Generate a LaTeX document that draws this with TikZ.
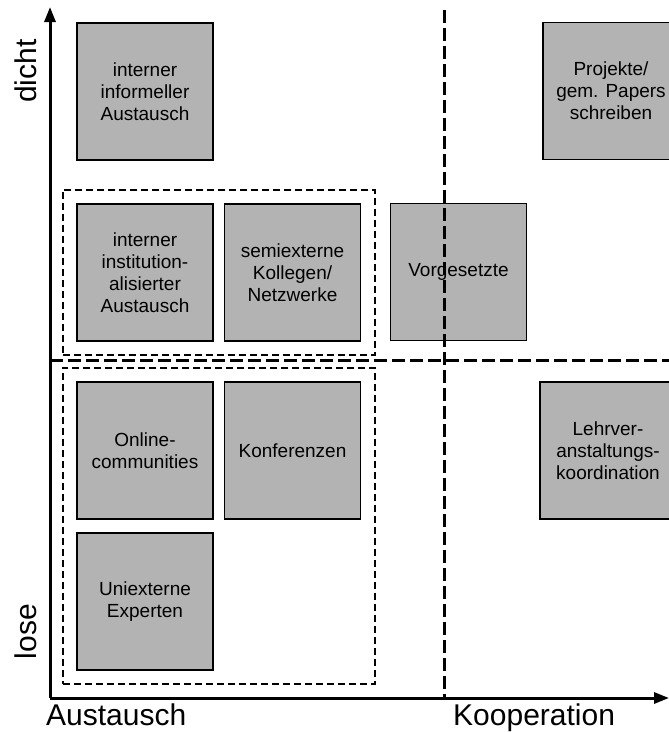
\documentclass[tikz,border=0pt]{standalone}
\usepackage{fontspec}
\setmainfont{Liberation Sans}
\usetikzlibrary{arrows.meta,fit}

\definecolor{boxgray}{RGB}{179,179,179}

\tikzset{
	feld/.style={
		draw=black, line width=1.5pt, fill=boxgray,
		minimum width=136pt, minimum height=137pt,
		align=center, inner sep=2pt,
		font=\fontsize{19}{22}\selectfont
	},
	gruppe/.style={
		draw=black, line width=2.2pt, dash pattern=on 7pt off 4pt,
		inner sep=13.5pt
	},
	quadrant/.style={
		line width=3pt, dash pattern=on 13pt off 5pt
	},
	achse/.style={
		line width=3pt, -{Triangle[length=15pt,width=11pt]}
	},
	achslabel/.style={
		font=\fontsize{30}{36}\selectfont, inner sep=0pt
	}
}

\begin{document}
\begin{tikzpicture}[x=1pt, y=-1pt]
	\useasboundingbox (0,0) rectangle (669,732);
	% felder oben
	\node [feld] (infAus) at (145,91.5) {interner\\informeller\\Austausch};
	\node [feld] (projekte) at (611,91) {Projekte/\\gem. Papers\\schreiben};
	\node [feld] (instAus) at (145,272.5) {interner\\institution-\\alisierter\\Austausch};
	\node [feld] (semiExt) at (292.5,272.5) {semiexterne\\Kollegen/\\Netzwerke};
	\node [feld] (vorges) at (458.5,272) {Vorgesetzte};
	% felder unten
	\node [feld] (online) at (145,450.5) {Online-\\communities};
	\node [feld] (konf) at (292.5,450.5) {Konferenzen};
	\node [feld] (lehrKoord) at (608,450.5) {Lehrver-\\anstaltungs-\\koordination};
	\node [feld] (uniExt) at (145,601.5) {Uniexterne\\Experten};
	% gestrichelte gruppen
	\node [gruppe, fit=(instAus) (semiExt)] (grpDicht) {};
	\node [gruppe, fit=(online) (konf) (uniExt)] (grpLose) {};
	% achsen
	\coordinate (O) at (50,698);
	\coordinate (yEnde) at (50,7);
	\coordinate (xEnde) at (669,698);
	\draw [achse] (O) -- (yEnde);
	\draw [achse] (O) -- (xEnde);
	% quadranten
	\coordinate (vOben) at (444,10);
	\coordinate (vUnten) at (444,698);
	\coordinate (hLinks) at (50,360);
	\coordinate (hRechts) at (669,360);
	\draw [quadrant] (vOben) -- (vUnten);
	\draw [quadrant] (hLinks) -- (hRechts);
	% beschriftung
	\node [achslabel, rotate=90, anchor=base] (dicht) at (37,71) {dicht};
	\node [achslabel, rotate=90, anchor=base] (lose) at (37,631.5) {lose};
	\node [achslabel, anchor=base west] (austausch) at (46,725) {Austausch};
	\node [achslabel, anchor=base west] (kooperation) at (453,725) {Kooperation};
\end{tikzpicture}
\end{document}
